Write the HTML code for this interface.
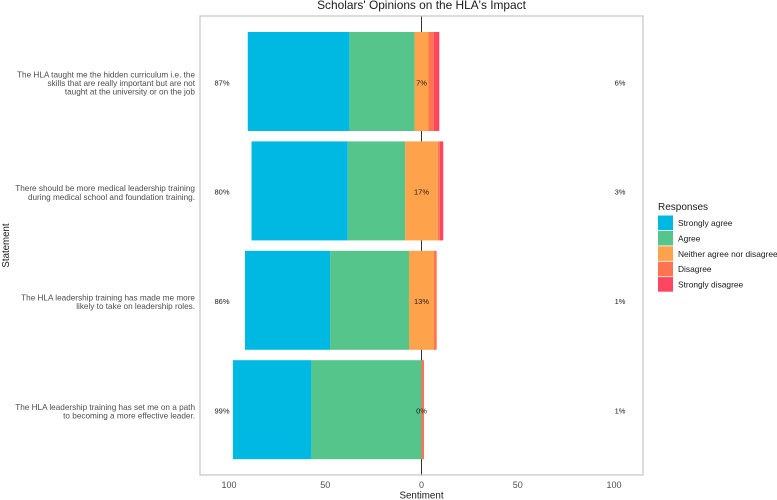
<!DOCTYPE html>
<html lang="en">
<head>
<meta charset="utf-8">
<title>Scholars' Opinions on the HLA's Impact</title>
<style>
html,body{margin:0;padding:0;background:#fff;}
svg{display:block;font-family:"Liberation Sans",sans-serif;}
</style>
</head>
<body>
<svg id="chart" xmlns="http://www.w3.org/2000/svg" width="777" height="500" viewBox="0 0 777 500">
<rect x="0" y="0" width="777" height="500" fill="#ffffff"/>
<text x="421.5" y="9" text-anchor="middle" font-size="11.9" fill="#1a1a1a">Scholars' Opinions on the HLA's Impact</text>
<g id="zero"></g>
<g id="bars"></g>
<rect x="200" y="16" width="443" height="459" fill="none" stroke="#c4c4c4" stroke-width="1.2"/>
<g id="labels"></g>
<g id="xticks"></g>
<g id="ycats"></g>
<text x="421.5" y="498.5" text-anchor="middle" font-size="9.8" fill="#1a1a1a">Sentiment</text>
<text transform="translate(9,245.5) rotate(-90)" text-anchor="middle" font-size="9.7" fill="#1a1a1a">Statement</text>
<text x="658" y="210" font-size="10" fill="#1a1a1a">Responses</text>
<g id="legend"></g>
</svg>
<script>
const statements = [
  ["The HLA taught me the hidden curriculum i.e. the", "skills that are really important but are not", "taught at the university or on the job"],
  ["There should be more medical leadership training", "during medical school and foundation training."],
  ["The HLA leadership training has made me more", "likely to take on leadership roles."],
  ["The HLA leadership training has set me on a path", "to becoming a more effective leader."]
];
const responses = ["Strongly agree", "Agree", "Neither agree nor disagree", "Disagree", "Strongly disagree"];
const stronglyAgree = [52.8, 50, 44.2, 40.8];
const agree = [33.8, 29.8, 41, 57.2];
const neutral = [7.3, 17, 13, 0];
const disagree = [2.8, 1, 1.4, 1.3];
const stronglyDisagree = [2.8, 1.8, 0, 0];
const leftLabels = ["87%", "80%", "86%", "99%"];
const midLabels = ["7%", "17%", "13%", "0%"];
const rightLabels = ["6%", "3%", "1%", "1%"];
const xTicks = [-100, -50, 0, 50, 100];

const colors = ["#00b9e2", "#55c58c", "#ffa24c", "#ff7350", "#ff4560"];
const NS = "http://www.w3.org/2000/svg";
const xScale = v => 421.5 + v * 1.925;
const bandTop = i => 32 + i * 109.4;
const bandHeight = 99;
const bandMid = i => bandTop(i) + bandHeight / 2;

function make(parent, tag, attrs, content) {
  const el = document.createElementNS(NS, tag);
  for (const k in attrs) el.setAttribute(k, attrs[k]);
  if (content !== undefined) el.textContent = content;
  parent.appendChild(el);
  return el;
}

const barsG = document.getElementById("bars");
statements.forEach((s, i) => {
  const vals = [stronglyAgree[i], agree[i], neutral[i], disagree[i], stronglyDisagree[i]];
  let cur = -(vals[0] + vals[1] + vals[2] / 2);
  vals.forEach((v, j) => {
    const r = make(barsG, "rect", {x: xScale(cur), y: bandTop(i), width: Math.max(0, xScale(cur + v) - xScale(cur)), height: bandHeight, fill: colors[j]});
    
    
    cur += v;
  });
});

const zeroG = document.getElementById("zero");
const zeroLine = make(zeroG, "line", {x1: xScale(0), x2: xScale(0), y1: 16, y2: 475, stroke: "#333333", "stroke-width": 1});



const labelsG = document.getElementById("labels");
statements.forEach((s, i) => {
  const y = bandMid(i) + 3.8;
  const a = make(labelsG, "text", {x: 222, y: y, "text-anchor": "middle", "font-size": 7.5, fill: "#1a1a1a"}, leftLabels[i]);
  
  
  const b = make(labelsG, "text", {x: xScale(0), y: y, "text-anchor": "middle", "font-size": 7.5, fill: "#1a1a1a"}, midLabels[i]);
  
  
  const c = make(labelsG, "text", {x: 620, y: y, "text-anchor": "middle", "font-size": 7.5, fill: "#1a1a1a"}, rightLabels[i]);
  
  
});

const xG = document.getElementById("xticks");
xTicks.forEach(t => {
  const el = make(xG, "text", {x: xScale(t), y: 488, "text-anchor": "middle", "font-size": 9, fill: "#4d4d4d"}, String(Math.abs(t)));
  
  
});

const yG = document.getElementById("ycats");
statements.forEach((lines, i) => {
  const lh = 8.7;
  const start = bandMid(i) + 4.5 - (lines.length - 1) * lh / 2;
  lines.forEach((line, k) => {
    const el = make(yG, "text", {x: 195, y: start + k * lh, "text-anchor": "end", "font-size": 8.2, fill: "#4d4d4d"}, line);
    
    
  });
});

const legG = document.getElementById("legend");
responses.forEach((r, i) => {
  const y = 215.5 + i * 15.4;
  const sw = make(legG, "rect", {x: 658, y: y, width: 15, height: 14.6, fill: colors[i]});
  
  
  const tx = make(legG, "text", {x: 678, y: y + 10.5, "font-size": 8.4, fill: "#1a1a1a"}, r);
  
  
});
</script>
</body>
</html>
